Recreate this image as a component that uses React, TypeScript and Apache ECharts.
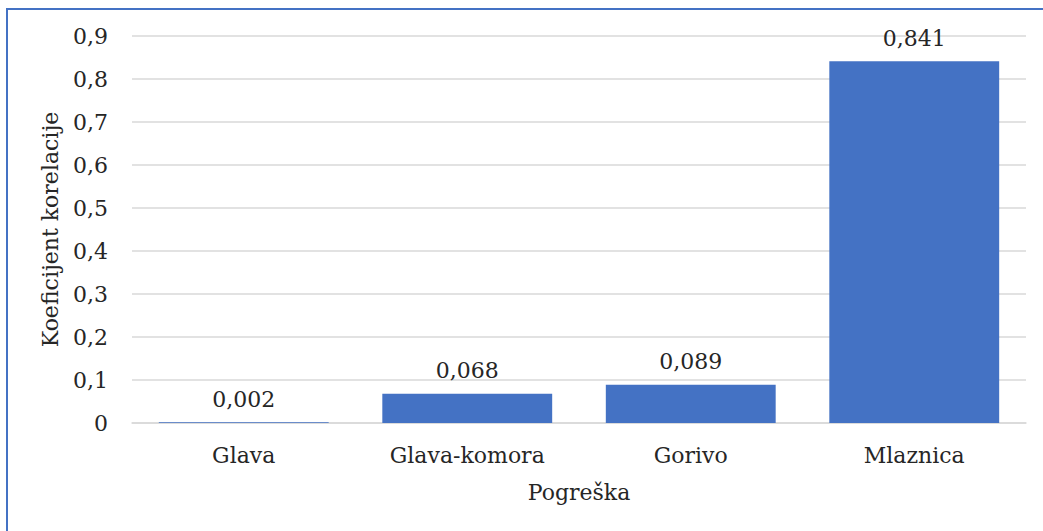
import React, { useEffect, useRef } from "react";
import * as echarts from "echarts";

const categories = ["Glava", "Glava-komora", "Gorivo", "Mlaznica"];
const values = [0.002, 0.068, 0.089, 0.841];
const yTicks = [0, 0.1, 0.2, 0.3, 0.4, 0.5, 0.6, 0.7, 0.8, 0.9];

const fmt = (v: number) => String(v).replace(".", ",");

export default function App() {
  const ref = useRef<HTMLDivElement>(null);
  useEffect(() => {
    if (!ref.current) return;
    const chart = echarts.init(ref.current, undefined, { renderer: "svg" });
    const font = "DejaVu Serif";
    const fs = 22;
    const col = "#262626";
    chart.setOption({
      animation: false,
      textStyle: { fontFamily: font },
      graphic: [
        {
          type: "rect",
          shape: { x: 7, y: 9, width: 1060, height: 560 },
          style: { fill: "none", stroke: "#4472C4", lineWidth: 2 },
        },
      ],
      grid: { left: 132, right: 17, top: 36, bottom: 108 },
      xAxis: {
        type: "category",
        data: categories,
        axisTick: { show: false },
        axisLine: { lineStyle: { color: "#d9d9d9", width: 1.5 } },
        axisLabel: { color: col, fontSize: fs, fontFamily: font, margin: 21 },
        name: "Pogreška",
        nameLocation: "middle",
        nameGap: 58,
        nameTextStyle: { color: col, fontSize: fs, fontFamily: font },
      },
      yAxis: {
        type: "value",
        min: 0,
        max: yTicks[yTicks.length - 1],
        interval: 0.1,
        axisLine: { show: false },
        axisTick: { show: false },
        splitLine: { lineStyle: { color: "#d9d9d9", width: 1.5 } },
        axisLabel: {
          color: col,
          fontSize: fs,
          fontFamily: font,
          margin: 24,
          formatter: (v: number) => fmt(Math.round(v * 10) / 10),
        },
        name: "Koeficijent korelacije",
        nameLocation: "middle",
        nameGap: 71,
        nameTextStyle: { color: col, fontSize: fs, fontFamily: font },
      },
      series: [
        {
          type: "bar",
          data: values,
          barWidth: "76%",
          itemStyle: { color: "#4472C4" },
          label: {
            show: true,
            position: "top",
            distance: 12,
            color: col,
            fontSize: fs,
            fontFamily: font,
            formatter: (p: any) => fmt(p.value),
          },
        },
      ],
    });
    return () => chart.dispose();
  }, []);
  return (
    <div
      ref={ref}
      style={{ position: "absolute", left: 0, top: 0, width: 1043, height: 531, background: "#fff" }}
    />
  );
}
